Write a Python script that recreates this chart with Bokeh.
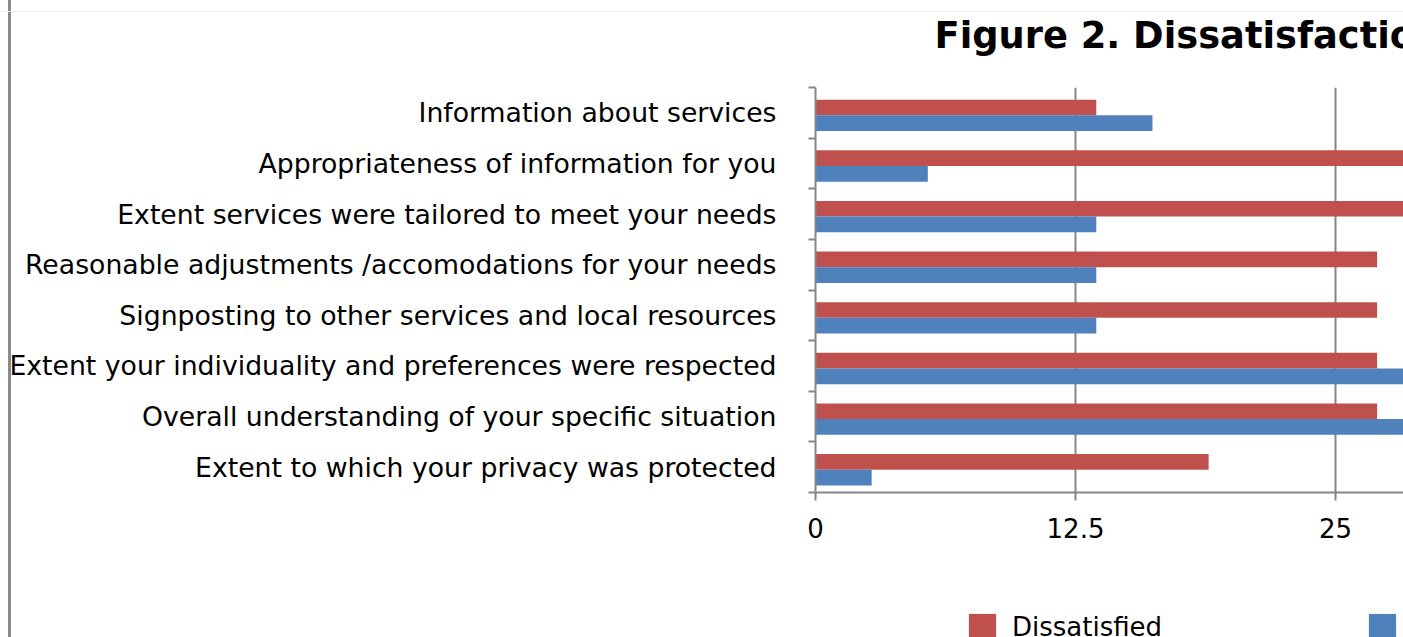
from bokeh.plotting import figure
from bokeh.layouts import column
from bokeh.models import Range1d, FixedTicker, Legend, LegendItem, ColumnDataSource, Label
from bokeh.embed import file_html
from bokeh.resources import INLINE

# ---- data (top to bottom) ----
categories = [
    "Information about services",
    "Appropriateness of information for you",
    "Extent services were tailored to meet your needs",
    "Reasonable adjustments /accomodations for your needs",
    "Signposting to other services and local resources",
    "Extent your individuality and preferences were respected",
    "Overall understanding of your specific situation",
    "Extent to which your privacy was protected",
]
dissatisfied = [13.5, 32.4, 32.4, 27.0, 27.0, 27.0, 27.0, 18.9]
very_dissatisfied = [16.2, 5.4, 13.5, 13.5, 13.5, 29.7, 29.7, 2.7]
series_names = ["Dissatisfied", "Very dissatisfied"]
x_ticks = [0, 12.5, 25]
title_text = "Figure 2. Dissatisfaction"

RED = "#C0504D"
BLUE = "#4F81BD"
GREY = "#868686"
FONT = "DejaVu Sans"
W = 1403
FRAME_LEFT = 815
HEAD_H, MAIN_H, LEG_H = 60, 540, 37
LEFT_LINE = "linear-gradient(to right, white 8px, #8a8a8a 8px, #8a8a8a 11px, white 11px)"
TOP_LINE = "linear-gradient(to bottom, transparent 11px, #efefef 11px, #efefef 12px, transparent 12px)"


def strip(height):
    # range far away from the data so that only annotations show in these strips
    f = figure(width=W, height=height, output_backend="svg", toolbar_location=None,
               x_axis_location=None, y_axis_location=None,
               x_range=Range1d(-10, -9), y_range=Range1d(-10, -9),
               min_border_left=FRAME_LEFT, min_border_right=0, min_border_top=0, min_border_bottom=0)
    f.grid.visible = False
    f.outline_line_color = None
    f.background_fill_alpha = 0
    f.border_fill_alpha = 0
    return f


# ---- header with title ----
head = strip(HEAD_H)
head.styles = {"background": TOP_LINE + ", " + LEFT_LINE}
head.add_layout(Label(x=934 - FRAME_LEFT, y=25.5, x_units="screen", y_units="screen",
                      text=title_text, text_font=FONT,
                      text_font_size="36.8px", text_font_style="bold", text_color="black",
                      text_align="left", text_baseline="alphabetic"))

# ---- main chart ----
n = len(categories)
centers = [n - i - 0.5 for i in range(n)]
bar_h = 0.31
shift = -0.05

src_red = ColumnDataSource(dict(y=[c + shift + bar_h / 2 for c in centers], x=dissatisfied))
src_blue = ColumnDataSource(dict(y=[c + shift - bar_h / 2 for c in centers], x=very_dissatisfied))

p = figure(width=W, height=MAIN_H, output_backend="svg", toolbar_location=None,
           x_range=Range1d(0, (W - FRAME_LEFT) / 20.8), y_range=Range1d(0, n),
           min_border_left=FRAME_LEFT, min_border_right=0,
           min_border_top=87 - HEAD_H, min_border_bottom=HEAD_H + MAIN_H - 492)
p.outline_line_color = None
p.background_fill_color = "white"
p.border_fill_alpha = 0
p.styles = {"background": LEFT_LINE}

p.hbar(y="y", right="x", left=0, height=bar_h, source=src_red, fill_color=RED, line_color=None)
p.hbar(y="y", right="x", left=0, height=bar_h, source=src_blue, fill_color=BLUE, line_color=None)

xa = p.xaxis[0]
xa.ticker = FixedTicker(ticks=x_ticks, minor_ticks=[])
xa.axis_line_color = GREY
xa.axis_line_width = 2
xa.major_tick_line_color = GREY
xa.major_tick_line_width = 2
xa.major_tick_out = 8
xa.major_tick_in = 0
xa.minor_tick_line_color = None
xa.major_label_text_font = FONT
xa.major_label_text_font_size = "26px"
xa.major_label_text_color = "black"
xa.major_label_standoff = 17

ya = p.yaxis[0]
ya.ticker = FixedTicker(ticks=centers, minor_ticks=list(range(n + 1)))
ya.major_label_overrides = {c: categories[i] for i, c in enumerate(centers)}
ya.axis_line_color = GREY
ya.axis_line_width = 2
ya.major_tick_line_color = None
ya.major_tick_out = 0
ya.major_tick_in = 0
ya.minor_tick_line_color = GREY
ya.minor_tick_line_width = 2
ya.minor_tick_out = 7
ya.minor_tick_in = 0
ya.major_label_text_font = FONT
ya.major_label_text_font_size = "26.7px"
ya.major_label_text_color = "black"
ya.major_label_standoff = 32

p.xgrid.ticker = FixedTicker(ticks=x_ticks)
p.xgrid.grid_line_color = GREY
p.xgrid.grid_line_width = 2
p.ygrid.grid_line_color = None

# ---- legend strip (same series, out of this strip's view) ----
lg = strip(LEG_H)
lg.styles = {"background": LEFT_LINE}
lr_red = lg.hbar(y="y", right="x", left=0, height=bar_h, source=src_red,
                 fill_color=RED, line_color=None)
lr_blue = lg.hbar(y="y", right="x", left=0, height=bar_h, source=src_blue,
                  fill_color=BLUE, line_color=None)
legend = Legend(items=[LegendItem(label=series_names[0], renderers=[lr_red]),
                       LegendItem(label=series_names[1], renderers=[lr_blue])],
                orientation="horizontal", location=(150, -7),
                spacing=203, glyph_width=34, glyph_height=34, label_height=34,
                label_standoff=13, label_text_font=FONT, label_text_font_size="26px",
                label_text_color="black", padding=0, margin=0,
                border_line_color=None, background_fill_alpha=0)
lg.add_layout(legend)

layout = column(head, p, lg, spacing=0)
open("out.html", "w").write(file_html(layout, INLINE))
